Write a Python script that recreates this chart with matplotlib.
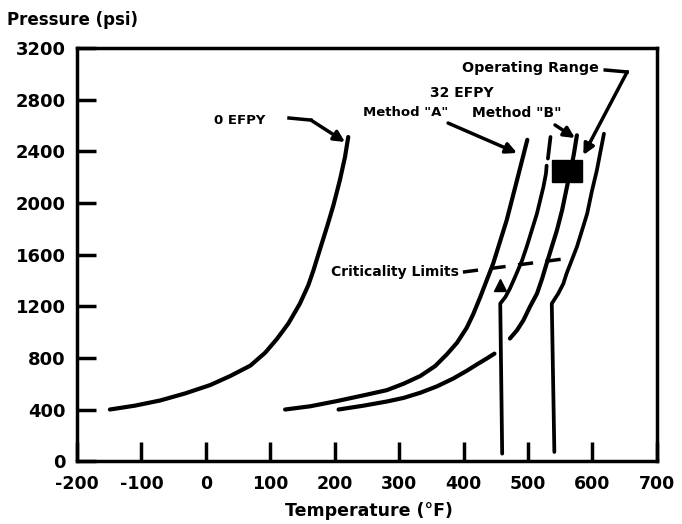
import numpy as np
import matplotlib
matplotlib.use('Agg')
import matplotlib.pyplot as plt
from matplotlib.patches import Rectangle

plt.rcParams['font.family'] = ['DejaVu Sans']
plt.rcParams['font.weight'] = 'bold'

nan = np.nan

# 0 EFPY limit curve
t_0efpy = [-149, -110, -71, -32, 7, 38, 69, 92, 110, 128, 146, 159, 167, 177, 188, 198, 208, 216, 221]
p_0efpy = [400, 430, 470, 525, 590, 660, 740, 840, 945, 1066, 1221, 1363, 1479, 1640, 1815, 1983, 2177, 2357, 2512]

# 32 EFPY, Method "A" heatup curve
t_method_a = [123, 162, 203, 245, 281, 307, 333, 356, 374, 390, 405, 415, 426, 446, 467, 483, 499]
p_method_a = [400, 425, 465, 510, 550, 600, 660, 737, 827, 918, 1034, 1138, 1272, 1531, 1867, 2177, 2490]

# 32 EFPY, Method "B" heatup curve (broken where the vertical limit crosses it)
t_method_b = [206, 245, 281, 307, 333, 359, 384, 405, 421, 436, 448, nan,
              472, 483, 493, 503, 514, 522, 529, 537, 545, 553, 560, 571, 576]
p_method_b = [400, 430, 462, 490, 530, 580, 640, 700, 750, 795, 833, nan,
              950, 1014, 1092, 1195, 1298, 1414, 1531, 1660, 1789, 1944, 2112, 2370, 2525]

# criticality limits (vertical minimum temperature, then the shifted curve)
t_crit_a = [460, 457, 465, 472, 480, 491, 498, 506, 514, 519, 524, 528, 529, nan, 531, 535]
p_crit_a = [58, 1221, 1272, 1337, 1427, 1557, 1660, 1789, 1919, 2022, 2125, 2229, 2290, nan, 2345, 2512]
t_crit_b = [541, 537, 547, 555, 560, 568, 576, 584, 592, 599, 607, 612, 618]
p_crit_b = [71, 1221, 1298, 1376, 1454, 1557, 1660, 1789, 1919, 2086, 2254, 2384, 2537]

# dashed leader for the criticality label
t_crit_leader = [399, 560]
p_crit_leader = [1465, 1570]

x_ticks = [-200, -100, 0, 100, 200, 300, 400, 500, 600, 700]
y_ticks = [0, 400, 800, 1200, 1600, 2000, 2400, 2800, 3200]

fig = plt.figure(figsize=(6.82, 5.24), dpi=100)
ax = fig.add_axes([0.113, 0.120, 0.850, 0.788])

lw = 3.0
ax.plot(t_0efpy, p_0efpy, color='black', lw=lw, solid_capstyle='round', solid_joinstyle='round')
ax.plot(t_method_a, p_method_a, color='black', lw=lw, solid_capstyle='round', solid_joinstyle='round')
ax.plot(t_method_b, p_method_b, color='black', lw=lw, solid_capstyle='round', solid_joinstyle='round')
ax.plot(t_crit_a, p_crit_a, color='black', lw=2.7, solid_capstyle='round', solid_joinstyle='round')
ax.plot(t_crit_b, p_crit_b, color='black', lw=2.7, solid_capstyle='round', solid_joinstyle='round')
ax.plot(t_crit_leader, p_crit_leader, color='black', lw=2.5, linestyle=(0, (4.4, 3.6)))
ax.plot([457], [1364], marker='^', color='black', markersize=9)

# black box over the operating range lines
ax.add_patch(Rectangle((538, 2165), 25, 170, color='black', zorder=5))
ax.add_patch(Rectangle((566, 2165), 18, 170, color='black', zorder=5))

# labels and arrows
arrow = dict(arrowstyle='-|>', color='black', lw=2.5, mutation_scale=16, shrinkA=0, shrinkB=0)
fs = 9.5

ax.text(53, 2643, '0 EFPY', fontsize=fs, fontweight='bold', ha='center', va='center')
ax.plot([129, 163], [2659, 2643], color='black', lw=2.5)
ax.annotate('', xy=(216, 2473), xytext=(163, 2643), arrowprops=arrow)

ax.text(398, 2853, '32 EFPY', fontsize=10, fontweight='bold', ha='center', va='center')
ax.text(310, 2698, 'Method "A"', fontsize=fs, fontweight='bold', ha='center', va='center')
ax.text(482, 2698, 'Method "B"', fontsize=10, fontweight='bold', ha='center', va='center')
ax.annotate('', xy=(483, 2388), xytext=(376, 2620), arrowprops=arrow)
ax.annotate('', xy=(573, 2504), xytext=(542, 2605), arrowprops=arrow)

ax.text(504, 3047, 'Operating Range', fontsize=10.3, fontweight='bold', ha='center', va='center')
ax.plot([620, 654], [3031, 3016], color='black', lw=2.5)
ax.annotate('', xy=(586, 2372), xytext=(654, 3016), arrowprops=arrow)

ax.text(392, 1465, 'Criticality Limits', fontsize=10, fontweight='bold', ha='right', va='center')

# axes
ax.set_xlim(-200, 700)
ax.set_ylim(0, 3200)
ax.set_xticks(x_ticks)
ax.set_yticks(y_ticks)
ax.set_xticklabels([str(v) for v in x_ticks], fontsize=12.5, fontweight='bold')
ax.set_yticklabels([str(v) for v in y_ticks], fontsize=13, fontweight='bold')
ax.tick_params(axis='both', direction='in', length=14, width=2.5, pad=8)
ax.tick_params(axis='x', pad=10)
for s in ax.spines.values():
    s.set_linewidth(2.5)

fig.text(7 / 682, 1 - 20 / 524, 'Pressure (psi)', fontsize=12, fontweight='bold', ha='left', va='center')
fig.text(369 / 682, 1 - 511 / 524, 'Temperature (°F)', fontsize=12.5, fontweight='bold', ha='center', va='center')

fig.savefig('out.png', dpi=100)
